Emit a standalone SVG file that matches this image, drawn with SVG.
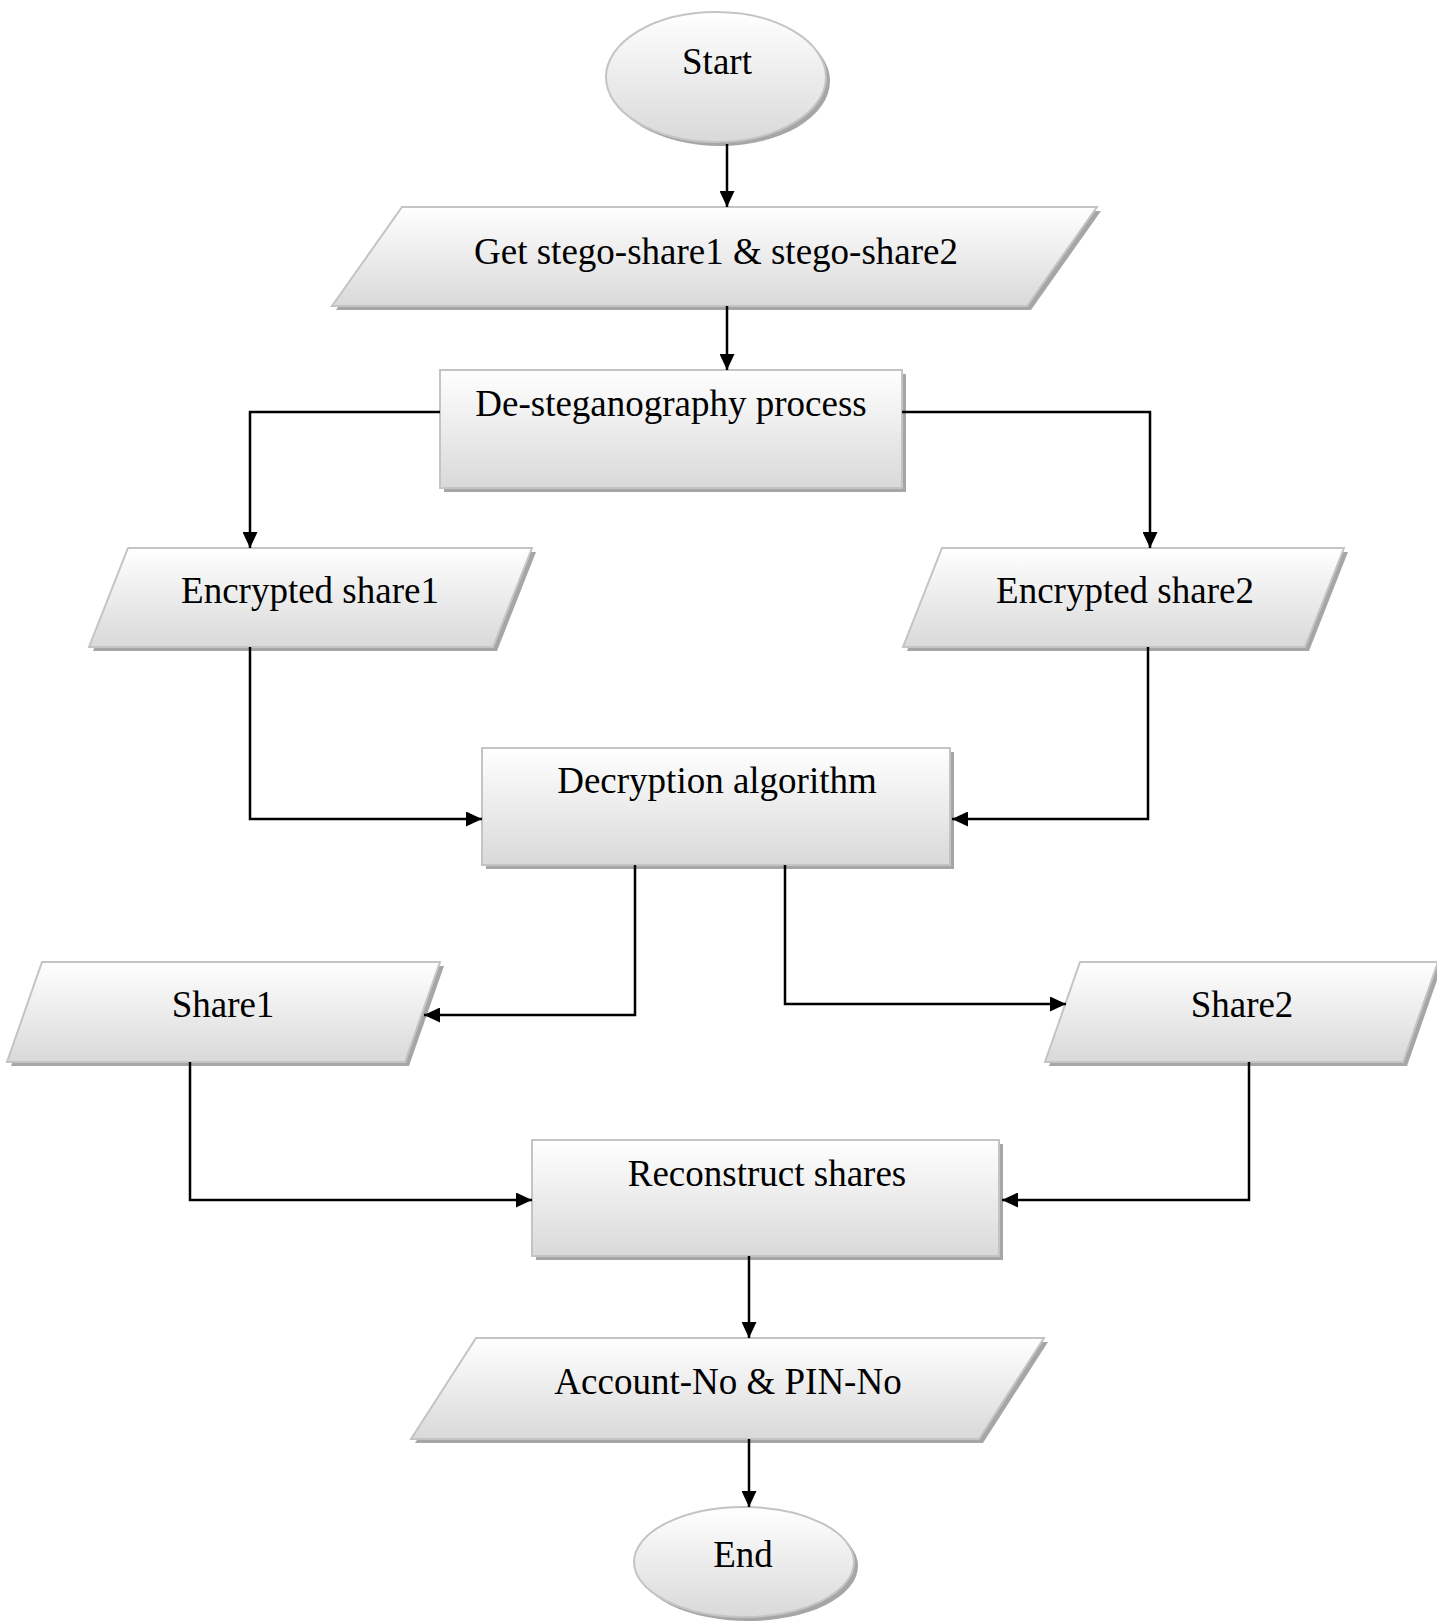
<svg xmlns="http://www.w3.org/2000/svg" width="1437" height="1623" viewBox="0 0 1437 1623">
<defs>
<linearGradient id="g" x1="0" y1="0" x2="0" y2="1">
<stop offset="0" stop-color="#ffffff"/>
<stop offset="1" stop-color="#d9d9d9"/>
</linearGradient>
<marker id="ah" markerUnits="userSpaceOnUse" markerWidth="16" markerHeight="15" refX="16" refY="7.5" orient="auto">
<path d="M0,0 L16,7.5 L0,15 z" fill="#000"/>
</marker>
</defs>
<style>
.sh{fill:#a6a6a6;stroke:none}
.nd{fill:url(#g);stroke:#c4c4c4;stroke-width:2}
.tx{font-family:"Liberation Serif","Times New Roman",serif;font-size:37px;fill:#000;text-anchor:middle}
.cn{fill:none;stroke:#000;stroke-width:2.5;marker-end:url(#ah)}
</style>
<rect width="1437" height="1623" fill="#fff"/>
<g id="start">
<ellipse class="sh" cx="720" cy="81" rx="110" ry="65"/>
<ellipse class="nd" cx="716" cy="77" rx="110" ry="65"/>
<text class="tx" x="717" y="74">Start</text>
</g>
<g id="get-stego">
<polygon class="sh" points="406,211 1101,211 1031,310 336,310"/>
<polygon class="nd" points="402,207 1097,207 1027,306 332,306"/>
<text class="tx" x="716" y="264">Get stego-share1 &amp; stego-share2</text>
</g>
<g id="desteg">
<rect class="sh" x="444" y="374" width="462" height="118"/>
<rect class="nd" x="440" y="370" width="462" height="118"/>
<text class="tx" x="671" y="416">De-steganography process</text>
</g>
<g id="enc1">
<polygon class="sh" points="132,552 536,552 497,651 93,651"/>
<polygon class="nd" points="128,548 532,548 493,647 89,647"/>
<text class="tx" x="310" y="603">Encrypted share1</text>
</g>
<g id="enc2">
<polygon class="sh" points="946,552 1348,552 1309,651 907,651"/>
<polygon class="nd" points="942,548 1344,548 1305,647 903,647"/>
<text class="tx" x="1125" y="603">Encrypted share2</text>
</g>
<g id="decrypt">
<rect class="sh" x="486" y="752" width="468" height="117"/>
<rect class="nd" x="482" y="748" width="468" height="117"/>
<text class="tx" x="717" y="793">Decryption algorithm</text>
</g>
<g id="share1">
<polygon class="sh" points="46,966 444,966 409,1066 11,1066"/>
<polygon class="nd" points="42,962 440,962 405,1062 7,1062"/>
<text class="tx" x="223" y="1017">Share1</text>
</g>
<g id="share2">
<polygon class="sh" points="1084,966 1442,966 1407,1066 1049,1066"/>
<polygon class="nd" points="1080,962 1438,962 1403,1062 1045,1062"/>
<text class="tx" x="1242" y="1017">Share2</text>
</g>
<g id="reconstruct">
<rect class="sh" x="536" y="1144" width="467" height="116"/>
<rect class="nd" x="532" y="1140" width="467" height="116"/>
<text class="tx" x="767" y="1186">Reconstruct shares</text>
</g>
<g id="account">
<polygon class="sh" points="480,1342 1048,1342 983,1443 415,1443"/>
<polygon class="nd" points="476,1338 1044,1338 979,1439 411,1439"/>
<text class="tx" x="728" y="1394">Account-No &amp; PIN-No</text>
</g>
<g id="end">
<ellipse class="sh" cx="748" cy="1566" rx="110" ry="55"/>
<ellipse class="nd" cx="744" cy="1562" rx="110" ry="55"/>
<text class="tx" x="743" y="1567">End</text>
</g>
<g id="connectors">
<path class="cn" d="M727,144 V207"/>
<path class="cn" d="M727,306 V370"/>
<path class="cn" d="M440,412 H250 V548"/>
<path class="cn" d="M902,412 H1150 V548"/>
<path class="cn" d="M250,647 V819 H482"/>
<path class="cn" d="M1148,647 V819 H952"/>
<path class="cn" d="M635,865 V1015 H424"/>
<path class="cn" d="M785,865 V1004 H1066"/>
<path class="cn" d="M190,1062 V1200 H532"/>
<path class="cn" d="M1249,1062 V1200 H1002"/>
<path class="cn" d="M749,1256 V1338"/>
<path class="cn" d="M749,1439 V1507"/>
</g>
</svg>
